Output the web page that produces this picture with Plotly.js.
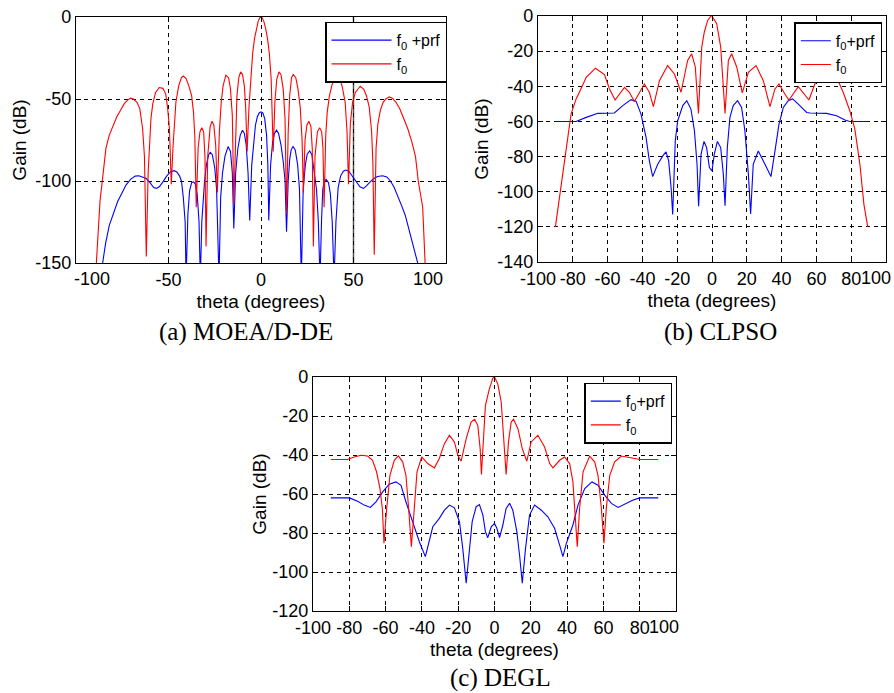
<!DOCTYPE html>
<html>
<head>
<meta charset="utf-8">
<script src="https://cdn.plot.ly/plotly-3.0.1.min.js"></script>
<style>html,body{margin:0;padding:0;background:#fff;}#chart{width:894px;height:693px;}</style>
</head>
<body>
<div id="chart"></div>
<script>
// ---------- (a) MOEA/D-DE ----------
const thetaA_f0 = [-89,-88,-87,-85,-83.8,-82,-80,-78,-76,-74,-72,-70.5,-69,-67,-65.5,-64,-63,-62,-61,-60.3,-59.5,-58.5,-57,-55,-53,-51.5,-50.5,-49.5,-48.5,-47.5,-46.8,-46,-44.5,-43,-42,-40.5,-39,-37.5,-36.5,-35.8,-35,-34,-33,-32,-31,-30.3,-29.7,-28.8,-27.5,-26.5,-25.5,-24.5,-23.6,-22.5,-21.5,-20.5,-19,-17.5,-16.5,-15.5,-14.7,-13.8,-13,-12,-11,-10,-9,-8.3,-7.5,-6.5,-5.5,-4.5,-3.5,-2.5,-1.5,-0.5,0,
0.5,1.5,2.5,3.5,4.5,5.5,6.6,7.5,8.5,9.7,10.8,12,13,13.8,14.7,15.5,16.5,17.4,18.8,20,21.2,22.2,22.9,23.8,24.8,25.9,27,27.7,28.3,29.2,30.5,31.7,32.8,33.5,34.1,35,35.8,37,38.5,40,41.3,42.8,44,45.5,46.5,47.3,48.3,49.5,51,53.6,55.5,57,58.5,59.8,60.5,61.2,62.2,63.2,64.5,66,67.5,69.3,71,73,75,77,79.3,81.5,83.5,85,86,87.4,88.7];
const gainA_f0 = [-150,-128,-112,-92,-80,-72,-66,-61,-57,-53,-50.5,-49.5,-50,-52,-56,-68,-85,-146,-95,-75,-62,-53,-46,-43,-43.5,-47,-55,-68,-102,-78,-62,-52,-42,-37,-36,-37.5,-42,-48,-58,-72,-116,-80,-70,-67.5,-70,-85,-140,-85,-67,-63.5,-66,-78,-107,-70,-52,-42,-35.5,-37,-44,-60,-114,-70,-48,-37,-33.5,-35,-42,-55,-82,-55,-35,-22,-13,-7,-2.5,-0.3,0,
-0.3,-2.5,-7,-13,-22,-38,-82,-52,-38,-33.5,-35,-44,-62,-120,-70,-48,-37,-35,-37,-44,-55,-75,-107,-75,-66,-63.5,-67,-80,-140,-85,-70,-67.5,-70,-80,-116,-72,-58,-48,-41,-37,-36.5,-38,-43,-52,-70,-102,-65,-52,-46,-42.2,-44,-48,-55,-70,-90,-145,-80,-65,-57,-52,-50,-48.7,-49.5,-52,-56,-62,-68,-76,-85,-100,-106,-116,-150];
const thetaA_prf = [-85.6,-84,-82,-80,-77.5,-75,-73,-70.5,-68,-66,-64,-62,-60,-58,-56.5,-55,-53,-51,-49,-47,-45.5,-44,-43,-42,-41,-40.5,-39.5,-38.6,-37.5,-36.4,-35.5,-34.5,-33.5,-32.8,-32,-31.2,-30.5,-29.5,-28.3,-27.4,-26.3,-25,-24,-22.7,-21.8,-20.8,-19.5,-17.8,-16.5,-15.5,-14.7,-13.7,-12.5,-11.2,-10,-9,-8,-7,-6.1,-5,-4,-3,-2,-1,0,
1,2,3,3.7,4.2,5.2,6.3,7.3,8.4,9.5,10.8,12,13,13.8,14.7,15.5,16.3,17.3,18.5,19.8,20.8,21.8,22.8,24,25,26.3,27.5,28.8,30,31,31.9,32.7,33.4,34.1,35.2,36.5,37.5,38.5,39.5,40.5,41.7,43,44.5,45.8,47.5,49,50.3,52,53.5,55.4,57,59,61,63,65.7,68,70,72,73.8,76,78,79.3,81,83,84.7];
const gainA_prf = [-150,-138,-127,-120,-112.5,-107,-102.5,-99,-97,-96.8,-97.5,-98.5,-101,-104,-104.5,-103.5,-100.5,-97,-94.5,-93.7,-94.5,-97,-100,-110,-125,-160,-120,-106,-101,-100.5,-102,-108,-125,-160,-125,-108,-100,-90,-84,-82.6,-84,-92,-105,-160,-110,-95,-85,-79,-82,-95,-129,-95,-80,-72,-69,-71,-78,-95,-124,-90,-75,-66,-61,-58.5,-57.8,
-58.5,-62,-72,-90,-124,-90,-76,-71,-69,-71,-78,-88,-100,-131,-100,-87,-81,-79,-81,-90,-105,-160,-105,-90,-83.5,-81.7,-84,-95,-105,-125,-160,-125,-105,-100.4,-99,-101,-108,-125,-160,-125,-104,-97,-94,-93.3,-94,-96.5,-98.4,-101.5,-103.5,-104.5,-103,-100.5,-98.5,-97.2,-96.8,-97.5,-100,-104,-108.5,-115,-121,-126.8,-133,-142,-150];

// ---------- (b) CLPSO ----------
const thetaB_f0 = [-90,-86.7,-83.8,-81,-78.1,-76.2,-72.3,-67,-61.8,-58.9,-55.7,-50.3,-47.5,-44.6,-38.9,-36,-33.7,-30.2,-25.5,-21.6,-17.8,-14,-11.7,-9.6,-7.8,-5.9,-4.4,-2.5,-0.6,0,
2.7,5,7.5,9.4,11.3,14.2,17.4,20.9,25.3,29.5,33.3,36.2,38.5,41.9,44.2,49.6,52.4,55.7,59.1,63,67,71.6,75.4,79.2,82.1,85,87.3,89.5];
const gainB_f0 = [-120,-97.7,-75.8,-55.8,-47.2,-43.4,-34.9,-29.7,-33.3,-41.5,-47.8,-40.6,-43.4,-48.6,-38.7,-43.4,-51.6,-36.8,-28.2,-33,-43.4,-25.3,-21.5,-29,-55.4,-17.7,-9.1,-2.5,0,0,
-4.4,-17.7,-55.4,-25.3,-21.5,-29,-43.8,-32,-28.2,-36.8,-51.6,-41.5,-38.7,-44.4,-47.8,-40.2,-43.4,-47.8,-38.7,-31,-29.7,-34.9,-43.4,-53.9,-64.4,-84.4,-107.2,-120];
const thetaB_prf = [-90,-78.1,-72.3,-65.6,-56.1,-51.3,-46.5,-43.6,-40.8,-37.9,-36,-34.1,-31.2,-28.3,-26.4,-24.9,-23.5,-22.6,-21.1,-19.7,-16.8,-14.5,-12.1,-10.1,-8.6,-7.7,-6.3,-4.6,-3.1,-1.5,0,
1.3,3.1,5,6.5,7.5,8.8,10.3,12.2,14.7,17,18.9,20.9,22.2,23.7,26.6,29.5,31.8,33.9,36.2,38.5,41,43.8,46.3,49.6,54.4,56.3,65.8,71.6,76.4,79.2,90];
const gainB_prf = [-60,-60,-57.7,-55.4,-55.2,-51,-47.6,-48.6,-55.8,-69.1,-82.5,-91.4,-84.4,-79.6,-77.3,-82.5,-97.7,-113,-71,-59.6,-51,-48.2,-53,-65.3,-84.4,-108.2,-78.7,-71.4,-74.9,-86.3,-88.2,
-78.7,-71.4,-74.9,-90,-108,-75,-57.7,-51,-48.2,-52,-65.3,-90,-112.6,-84.4,-76.8,-82.5,-87.2,-91.4,-76.8,-61.5,-52,-48.2,-47.2,-50.1,-54.9,-55.2,-55.4,-56.8,-59.2,-60,-60];

// ---------- (c) DEGL ----------
const thetaC_f0 = [-90.2,-81,-77.3,-73.6,-69.9,-67.2,-65,-63.1,-61.8,-60.9,-59.4,-57.6,-55.2,-53,-50.6,-48.8,-47.3,-45.8,-44.2,-42.7,-40.1,-36.8,-33.1,-30.4,-27.6,-24.8,-22.1,-20.2,-18.4,-15.6,-12.9,-11,-9.2,-7.9,-7.2,-6.1,-5,-2.8,-0.9,0,
1.8,3.7,5.2,6.4,7.7,9.2,10.5,12.9,15.3,17.8,20.2,23.9,27.6,30.4,32.2,35.9,38.6,41.4,43.2,44.5,45.6,46.9,48.8,52.4,55.2,57,58.9,60.3,61.6,63.5,66.2,69.9,73.6,77.3,80,90.2];
const gainC_f0 = [-42.3,-42.3,-41,-40.1,-40.5,-42.7,-48.6,-57.2,-67.4,-85.3,-67.4,-50.4,-42.7,-40.5,-43.5,-50.4,-67.4,-87,-67.4,-48.6,-41,-44.4,-46.6,-41.8,-34.2,-29.9,-33.3,-40.1,-43.2,-31.6,-23.1,-21.7,-24.8,-36.7,-50,-33.3,-14.5,-6,-0.6,0,
-3.5,-12.8,-31.6,-50,-33.3,-23.1,-21.7,-26.5,-36.7,-43.2,-33.3,-29.9,-35.9,-44.4,-46.6,-42.7,-41,-44.4,-53.8,-70.8,-87,-67.4,-48.6,-40.6,-43.5,-50.4,-67.4,-85.3,-67.4,-50.4,-43.5,-40.5,-41,-41.8,-42.3,-42.3];
const thetaC_prf = [-90.2,-80,-75.4,-71.8,-68.4,-65.3,-61.6,-58,-54.3,-51.5,-48.8,-45.1,-41.4,-38.1,-35.9,-34,-30.4,-27.6,-24.8,-22.1,-19.3,-17.5,-15.6,-13.8,-12.3,-10.1,-8.3,-6.4,-5,-3.7,-1.8,0,
1.3,2.8,4.6,6.4,8.3,10.1,12.3,13.8,15.3,17.1,19.3,22.1,25.8,29.4,33.1,35.9,37.7,39.6,43.2,46,49.7,53.7,57,60.7,64.4,68.1,72.7,76.4,80,90.2];
const gainC_prf = [-62,-62,-63.7,-65.7,-66.9,-64,-58.9,-55,-53.8,-55.5,-64,-74.2,-84.5,-92.1,-84.5,-76.8,-72.5,-68.3,-65.7,-67.1,-74.2,-87.9,-105.8,-87.9,-74.2,-66.5,-65.4,-70.8,-79.3,-82.4,-76.8,-75.1,
-77.6,-82.4,-75.9,-67.4,-64.8,-68.3,-79.3,-91.3,-105.8,-87.9,-70.8,-65.7,-68.3,-71.7,-77.6,-86.2,-92.1,-85.3,-75.9,-65.7,-57.2,-53.8,-55.5,-60.6,-64.8,-66.9,-64.8,-63.1,-62,-62];

// ---------- ticks ----------
const xTicksA = [-100,-50,0,50,100];
const xLabelsA = ['-100','-50','0','50','100'];
const yTicksA = [0,-50,-100,-150];
const yLabelsA = ['0','-50','-100','-150'];
const xTicksBC = [-100,-80,-60,-40,-20,0,20,40,60,80,100];
const xLabelsBC = ['-100','-80','-60','-40','-20','0','20','40','60','80','100'];
const yTicksB = [0,-20,-40,-60,-80,-100,-120,-140];
const yLabelsB = ['0','-20','-40','-60','-80','-100','-120','-140'];
const yTicksC = [0,-20,-40,-60,-80,-100,-120];
const yLabelsC = ['0','-20','-40','-60','-80','-100','-120'];
const solidRefA = 50;

const nameF0prfA = 'f<sub>0</sub> +prf';
const nameF0prf = 'f<sub>0</sub>+prf';
const nameF0 = 'f<sub>0</sub>';
const captions = ['(a) MOEA/D-DE','(b) CLPSO','(c) DEGL'];

const BLUE = '#0000ff', RED = '#ff0000';
const sans = 'Liberation Sans, Arial, sans-serif';
const serif = 'Liberation Serif, Times New Roman, serif';
const W = 894, H = 693;
const tickFont = {family: sans, size: 18, color: '#000'};

// inner tick labels keep their own text; the two end labels (as in the original
// figure) are nudged inward and drawn as annotations anchored to the axis values
function inner(labels) { return labels.map((t, i) => (i === 0 || i === labels.length - 1) ? '' : t); }

function ax(domain, range, tv, tt, anchor, titleText, standoff) {
  return {
    domain: domain, range: range, anchor: anchor, autorange: false,
    tickmode: 'array', tickvals: tv, ticktext: tt, tickangle: 0,
    showline: true, linecolor: '#000', linewidth: 1.2, mirror: 'ticks',
    ticks: 'inside', ticklen: 5, tickcolor: '#000', tickwidth: 1,
    showgrid: true, gridcolor: '#000', griddash: '4px,4px', gridwidth: 1,
    zeroline: false, fixedrange: true,
    tickfont: tickFont,
    title: {text: titleText, font: {family: sans, size: 19, color: '#000'}, standoff: standoff}
  };
}
const px = v => v / W, py = v => 1 - v / H;

const traces = [
  {x: thetaA_prf, y: gainA_prf, name: nameF0prfA, mode: 'lines', line: {color: BLUE, width: 1.1}, xaxis: 'x', yaxis: 'y', legend: 'legend'},
  {x: thetaA_f0, y: gainA_f0, name: nameF0, mode: 'lines', line: {color: RED, width: 1.1}, xaxis: 'x', yaxis: 'y', legend: 'legend'},
  {x: thetaB_prf, y: gainB_prf, name: nameF0prf, mode: 'lines', line: {color: BLUE, width: 1.1}, xaxis: 'x2', yaxis: 'y2', legend: 'legend2'},
  {x: thetaB_f0, y: gainB_f0, name: nameF0, mode: 'lines', line: {color: RED, width: 1.1}, xaxis: 'x2', yaxis: 'y2', legend: 'legend2'},
  {x: thetaC_prf, y: gainC_prf, name: nameF0prf, mode: 'lines', line: {color: BLUE, width: 1.1}, xaxis: 'x3', yaxis: 'y3', legend: 'legend3'},
  {x: thetaC_f0, y: gainC_f0, name: nameF0, mode: 'lines', line: {color: RED, width: 1.1}, xaxis: 'x3', yaxis: 'y3', legend: 'legend3'}
];

function leg(xr, yt, iw) {
  return {x: px(xr), y: py(yt), xanchor: 'right', yanchor: 'top', xref: 'paper', yref: 'paper',
    bgcolor: '#fff', bordercolor: '#000', borderwidth: 1.5, itemwidth: iw,
    font: {family: sans, size: 16, color: '#000'}, tracegroupgap: 0};
}

function endLabel(xref, yref, xval, text, shift) {
  return {text: text, xref: xref, yref: yref + ' domain', x: xval, y: 0, xanchor: 'center', yanchor: 'top',
    xshift: shift, yshift: -5, showarrow: false, font: tickFont, borderpad: 0};
}

const capFont = {family: serif, size: 25, color: '#000'};
const layout = {
  width: W, height: H, margin: {l: 0, r: 0, t: 0, b: 0},
  paper_bgcolor: '#fff', plot_bgcolor: '#fff', showlegend: true,
  xaxis: ax([px(76), px(446)], [-100, 100], xTicksA, inner(xLabelsA), 'y', 'theta (degrees)', 6),
  yaxis: ax([py(263), py(17)], [-150, 0], yTicksA, yLabelsA, 'x', 'Gain (dB)', 3),
  xaxis2: ax([px(538), px(886)], [-100, 100], xTicksBC, inner(xLabelsBC).map((t, i) => i === 0 ? xLabelsBC[0] : t), 'y2', 'theta (degrees)', 6),
  yaxis2: ax([py(262), py(16)], [-140, 0], yTicksB, yLabelsB, 'x2', 'Gain (dB)', 3),
  xaxis3: ax([px(313), px(676)], [-100, 100], xTicksBC, inner(xLabelsBC).map((t, i) => i === 0 ? xLabelsBC[0] : t), 'y3', 'theta (degrees)', 6),
  yaxis3: ax([py(611), py(377)], [-120, 0], yTicksC, yLabelsC, 'x3', 'Gain (dB)', 0),
  legend: leg(447, 21.7, 60),
  legend2: leg(882.3, 22.3, 30),
  legend3: leg(672.3, 382.7, 30),
  shapes: [{type: 'line', xref: 'x', yref: 'y domain', x0: solidRefA, x1: solidRefA, y0: 0, y1: 1, line: {color: '#555', width: 1.5}, layer: 'below'}],
  annotations: [
    endLabel('x', 'y', xTicksA[0], xLabelsA[0], 16),
    endLabel('x', 'y', xTicksA[xTicksA.length - 1], xLabelsA[xLabelsA.length - 1], -18),
    endLabel('x2', 'y2', xTicksBC[xTicksBC.length - 1], xLabelsBC[xLabelsBC.length - 1], -10),
    endLabel('x3', 'y3', xTicksBC[xTicksBC.length - 1], xLabelsBC[xLabelsBC.length - 1], -12),
    {text: captions[0], x: px(246), y: py(332), xref: 'paper', yref: 'paper', showarrow: false, xanchor: 'center', yanchor: 'middle', font: capFont},
    {text: captions[1], x: px(720), y: py(332), xref: 'paper', yref: 'paper', showarrow: false, xanchor: 'center', yanchor: 'middle', font: capFont},
    {text: captions[2], x: px(500), y: py(678), xref: 'paper', yref: 'paper', showarrow: false, xanchor: 'center', yanchor: 'middle', font: capFont}
  ]
};

Plotly.newPlot('chart', traces, layout, {staticPlot: true, displayModeBar: false});
</script>
</body>
</html>
